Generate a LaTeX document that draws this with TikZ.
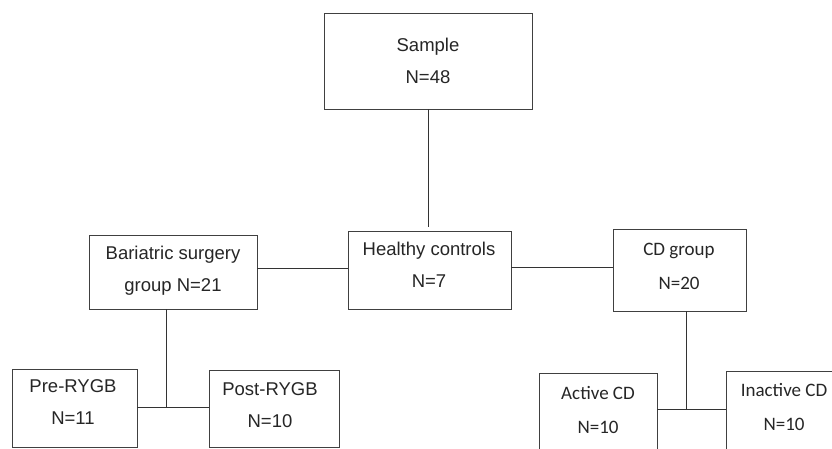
\documentclass[tikz,border=0pt]{standalone}
\usepackage{fontspec}
\setmainfont{Liberation Sans}
\newfontfamily\carlitofont{Carlito}
\begin{document}
\begin{tikzpicture}[x=1pt,y=-1pt,
  box/.style={draw=black!75,line width=1pt,rectangle,anchor=north west,inner sep=0pt,outer sep=0pt},
  txt/.style={text=black!85,align=center,inner sep=0pt,font=\fontsize{18.5}{32}\selectfont},
  ctxt/.style={text=black!85,align=center,inner sep=0pt,font=\carlitofont\fontsize{19}{34}\selectfont},
  link/.style={draw=black!80,line width=1pt}]
\useasboundingbox (0,0) rectangle (832,448);
\clip (0,0) rectangle (832,448);
\fill[white] (0,0) rectangle (832,448);
% boxes
\node[box,minimum width=208pt,minimum height=96pt] (sample) at (324,13) {};
\node[box,minimum width=163pt,minimum height=78pt] (healthy) at (348,231) {};
\node[box,minimum width=168pt,minimum height=74pt] (bariatric) at (89,235) {};
\node[box,minimum width=133pt,minimum height=82pt] (cd) at (613,229) {};
\node[box,minimum width=125pt,minimum height=78pt] (pre) at (12,369) {};
\node[box,minimum width=130pt,minimum height=77pt] (post) at (209,370) {};
\node[box,minimum width=118pt,minimum height=90pt] (active) at (539,373) {};
\node[box,minimum width=120pt,minimum height=90pt] (inactive) at (726,371) {};
% texts
\node[txt] (sampleT) at (428,61) {Sample\\N=48};
\node[txt] (healthyT) at (429,265) {Healthy controls\\N=7};
\node[txt] (bariatricT) at (173,270.5) {Bariatric surgery\\group N=21};
\node[ctxt] (cdT) at (679,266) {CD group\\N=20};
\node[txt] (preT) at (73,402.5) {Pre-RYGB\\N=11};
\node[txt] (postT) at (270,405.5) {Post-RYGB\\N=10};
\node[ctxt] (activeT) at (598,409.5) {Active CD\\N=10};
\node[ctxt] (inactiveT) at (784,406.5) {Inactive CD\\N=10};
% junctions
\coordinate (top) at (428,227);
\coordinate (jl) at (166,407);
\coordinate (jr) at (686,409);
\coordinate (hl) at (0,268);
\coordinate (hr) at (0,267);
% connectors
\draw[link] (sample.south -| top) -- (top);
\draw[link] (bariatric.east |- hl) -- (healthy.west |- hl);
\draw[link] (healthy.east |- hr) -- (cd.west |- hr);
\draw[link] (bariatric.south -| jl) -- (jl);
\draw[link] (pre.east |- jl) -- (post.west |- jl);
\draw[link] (cd.south -| jr) -- (jr);
\draw[link] (active.east |- jr) -- (inactive.west |- jr);
\end{tikzpicture}
\end{document}
